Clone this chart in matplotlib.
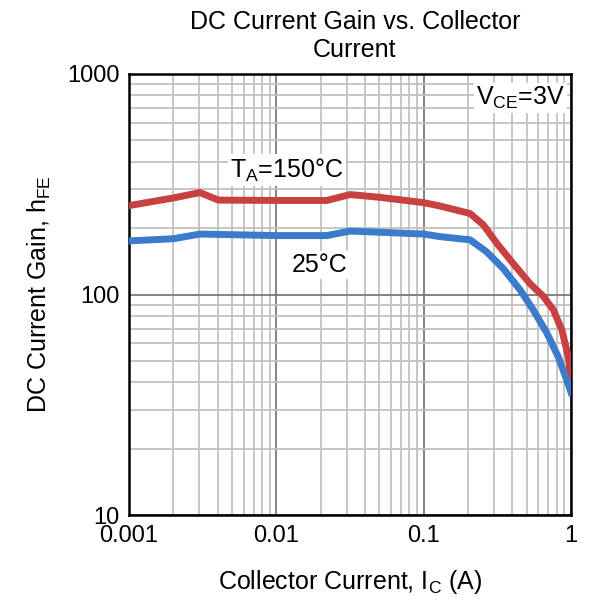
import matplotlib
matplotlib.use('agg')
import matplotlib.pyplot as plt
from matplotlib.ticker import LogLocator, NullFormatter, FixedLocator, FixedFormatter
import numpy as np

plt.rcParams['font.family'] = ['Liberation Sans', 'DejaVu Sans']
plt.rcParams['mathtext.fontset'] = 'custom'
plt.rcParams['mathtext.rm'] = 'Liberation Sans'

# data
ic_150 = [0.001, 0.002, 0.00303, 0.00404, 0.01, 0.022, 0.0317, 0.05, 0.1, 0.129, 0.2065, 0.254,
          0.313, 0.406, 0.527, 0.65, 0.76, 0.867, 0.96, 1.0]
hfe_150 = [253, 274, 290, 268, 267, 267, 284, 276, 261, 252, 233, 207,
           171, 138, 112, 98, 85, 69, 52, 40]

ic_25 = [0.001, 0.002, 0.00303, 0.01, 0.022, 0.0317, 0.1, 0.129, 0.2065, 0.268, 0.347, 0.451,
         0.555, 0.685, 0.821, 0.935, 1.0]
hfe_25 = [175, 179, 188, 185, 185, 194, 188, 183, 177, 156, 131, 105,
          85, 67, 52, 41, 36]

xticks = [0.001, 0.01, 0.1, 1]
xtick_labels = ['0.001', '0.01', '0.1', '1']
yticks = [10, 100, 1000]
ytick_labels = ['10', '100', '1000']

fig = plt.figure(figsize=(5.89, 6.0), dpi=100)
ax = fig.add_axes([129/589, 1-515/600, (571-129)/589, (515-74)/600])

ax.plot(ic_150, hfe_150, color='#C8403F', lw=5, solid_joinstyle='round', zorder=3)
ax.plot(ic_25, hfe_25, color='#3A7BCB', lw=5, solid_joinstyle='round', zorder=3)

ax.set_xscale('log')
ax.set_yscale('log')
ax.set_xlim(0.001, 1)
ax.set_ylim(10, 1000)

ax.xaxis.set_major_locator(FixedLocator(xticks))
ax.xaxis.set_major_formatter(FixedFormatter(xtick_labels))
ax.yaxis.set_major_locator(FixedLocator(yticks))
ax.yaxis.set_major_formatter(FixedFormatter(ytick_labels))
ax.xaxis.set_minor_locator(LogLocator(base=10, subs=np.arange(2, 10)))
ax.yaxis.set_minor_locator(LogLocator(base=10, subs=np.arange(2, 10)))
ax.xaxis.set_minor_formatter(NullFormatter())
ax.yaxis.set_minor_formatter(NullFormatter())

ax.grid(which='major', color='#7a7a7a', lw=1.3, zorder=1)
ax.grid(which='minor', color='#c2c2c2', lw=1.3, zorder=1)
ax.set_axisbelow(True)
ax.tick_params(which='both', length=0, labelsize=17)
ax.tick_params(axis='x', pad=7)
ax.tick_params(axis='y', pad=7)
for s in ax.spines.values():
    s.set_linewidth(1.8)
    s.set_color('black')

ax.set_xlabel('Collector Current, I$_\\mathregular{C}$ (A)', fontsize=18, labelpad=15)
ax.set_ylabel('DC Current Gain, h$_\\mathregular{FE}$', fontsize=18, labelpad=10)
fig.text(355/589, 1-36/600, 'DC Current Gain vs. Collector\nCurrent', ha='center', va='center',
         fontsize=18, linespacing=1.2)

box = dict(facecolor='white', edgecolor='none', pad=1.5)
ax.text(0.0118, 367, 'T$_\\mathregular{A}$=150°C', fontsize=18, ha='center', va='center', bbox=box, zorder=4)
ax.text(0.0198, 136, '25°C', fontsize=18, ha='center', va='center', bbox=box, zorder=4)
ax.text(0.451, 778, 'V$_\\mathregular{CE}$=3V', fontsize=18, ha='center', va='center', bbox=box, zorder=4)

fig.savefig('out.png', dpi=100)
